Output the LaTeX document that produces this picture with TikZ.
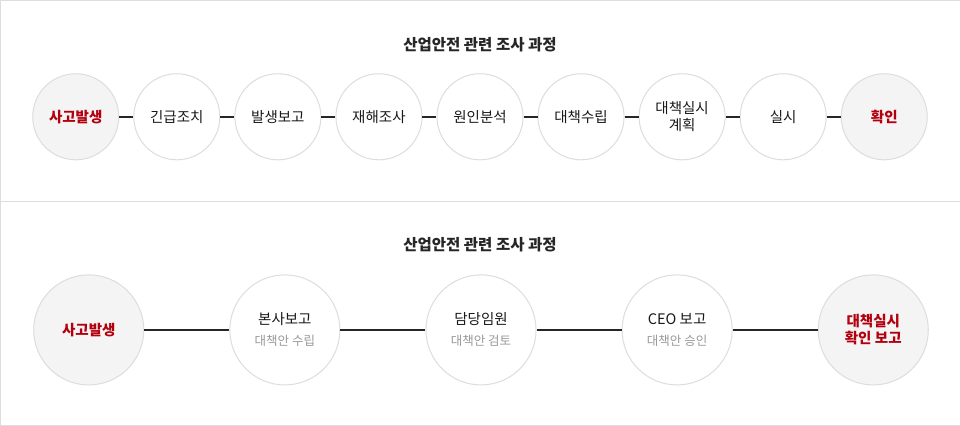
\documentclass[tikz,border=0pt]{standalone}
\usepackage{fontspec}
\setmainfont{Noto Sans CJK KR}
\definecolor{accent}{HTML}{B3000F}
\definecolor{ring}{HTML}{DDDDDD}
\definecolor{softfill}{HTML}{F4F4F4}
\definecolor{subtext}{HTML}{999999}
\begin{document}
\begin{tikzpicture}[x=1pt,y=-1pt,
    step node/.style={circle,draw=ring,line width=1pt,fill=white,minimum size=86pt,inner sep=0pt,align=center,font=\fontsize{14.5}{17}\selectfont,text=black!90},
    big node/.style={step node,minimum size=110pt},
    end node/.style={fill=softfill,text=accent,font=\fontsize{14.5}{17}\selectfont\bfseries},
    link/.style={line width=1.5pt,black!85},
    title/.style={font=\fontsize{15.5}{18}\selectfont\bfseries,text=black!85}]
  \draw[ring,fill=white] (0.5,0.5) rectangle (959.5,425.5);
  \draw[ring] (0.5,201) -- (959.5,201);
  % first row
  \node[title] at (480,45) (t1) {산업안전 관련 조사 과정};
  \node[step node,end node] at (76,117) (a1) {사고발생};
  \node[step node] at (177,117) (a2) {긴급조치};
  \node[step node] at (278,117) (a3) {발생보고};
  \node[step node] at (379,117) (a4) {재해조사};
  \node[step node] at (480,117) (a5) {원인분석};
  \node[step node] at (581,117) (a6) {대책수립};
  \node[step node] at (682,117) (a7) {대책실시\\계획};
  \node[step node] at (783,117) (a8) {실시};
  \node[step node,end node] at (884,117) (a9) {확인};
  \foreach \i/\j in {a1/a2,a2/a3,a3/a4,a4/a5,a5/a6,a6/a7,a7/a8,a8/a9}
    \draw[link] (\i) -- (\j);
  % second row
  \node[title] at (480,245) (t2) {산업안전 관련 조사 과정};
  \node[big node,end node] at (89,330) (b1) {사고발생};
  \node[big node] at (285,330) (b2) {본사보고\\[4pt]{\fontsize{12.5}{15}\selectfont\color{subtext}대책안 수립}};
  \node[big node] at (481,330) (b3) {담당임원\\[4pt]{\fontsize{12.5}{15}\selectfont\color{subtext}대책안 검토}};
  \node[big node] at (677,330) (b4) {CEO 보고\\[4pt]{\fontsize{12.5}{15}\selectfont\color{subtext}대책안 승인}};
  \node[big node,end node] at (873,330) (b5) {대책실시\\확인 보고};
  \foreach \i/\j in {b1/b2,b2/b3,b3/b4,b4/b5}
    \draw[link] (\i) -- (\j);
\end{tikzpicture}
\end{document}
